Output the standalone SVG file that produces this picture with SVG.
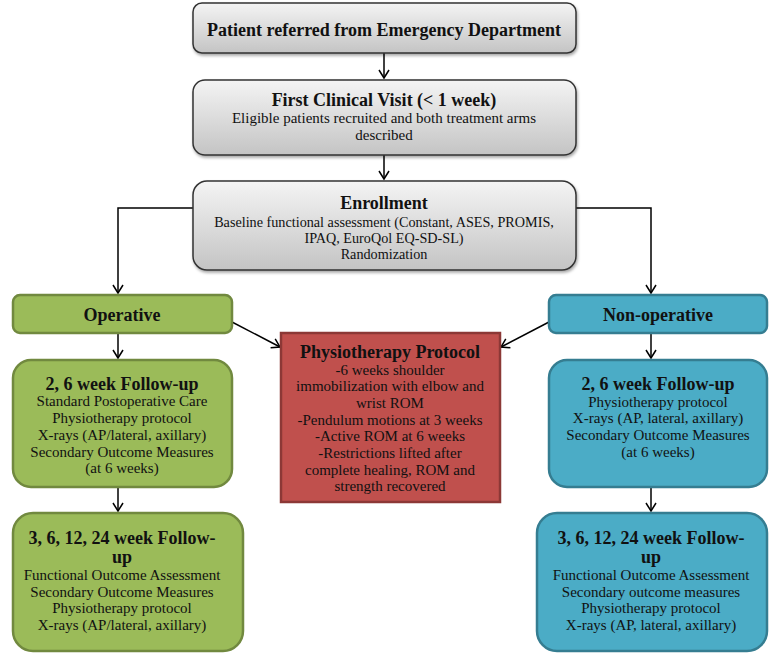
<svg xmlns="http://www.w3.org/2000/svg" width="781" height="655" viewBox="0 0 781 655">
<defs>
<linearGradient id="gray" x1="0" y1="0" x2="0" y2="1">
<stop offset="0" stop-color="#f4f4f4"/>
<stop offset="1" stop-color="#c4c4c4"/>
</linearGradient>
<filter id="sh" x="-10%" y="-10%" width="120%" height="130%">
<feDropShadow dx="1" dy="2" stdDeviation="1.5" flood-color="#000" flood-opacity="0.35"/>
</filter>
<marker id="ah" markerWidth="12" markerHeight="12" refX="10" refY="6" orient="auto" markerUnits="userSpaceOnUse">
<path d="M2,1 L10,6 L2,11" fill="none" stroke="#000" stroke-width="1.5"/>
</marker>
</defs>
<style>
text{font-family:"Liberation Serif","DejaVu Serif",serif;fill:#111;text-anchor:middle}
.t{font-weight:bold;font-size:18px}
.b{font-size:15px}
.e{font-size:14.2px}
.gray{fill:url(#gray);stroke:#333;stroke-width:1.5;filter:url(#sh)}
.green{fill:#9bbb59;stroke:#71893f;stroke-width:2.5}
.blue{fill:#4bacc6;stroke:#357d91;stroke-width:2.5}
.red{fill:#c0504d;stroke:#8c3836;stroke-width:2.5}
.c{fill:none;stroke:#000;stroke-width:1.5;marker-end:url(#ah)}
</style>
<g id="connectors">
<path class="c" d="M384,53 V78"/>
<path class="c" d="M384,155 V179"/>
<path class="c" d="M193,208 H118 V293"/>
<path class="c" d="M576,208 H651 V293"/>
<path class="c" d="M118,334 V358"/>
<path class="c" d="M651,334 V358"/>
<path class="c" d="M118,488 V511"/>
<path class="c" d="M651,488 V511"/>
<path class="c" d="M232,322 L280,347"/>
<path class="c" d="M549,322 L501,347"/>
</g>
<g id="referred">
<rect class="gray" x="193" y="3" width="383" height="50" rx="9"/>
<text class="t" x="384" y="36">Patient referred from Emergency Department</text>
</g>
<g id="first-visit">
<rect class="gray" x="193" y="80" width="383" height="75" rx="12"/>
<text class="t" x="384" y="106">First Clinical Visit (&lt; 1 week)</text>
<text class="b" x="384" y="123">Eligible patients recruited and both treatment arms</text>
<text class="b" x="384" y="140">described</text>
</g>
<g id="enrollment">
<rect class="gray" x="193" y="181" width="383" height="89" rx="14"/>
<text class="t" x="384" y="209">Enrollment</text>
<text class="e" x="384" y="227">Baseline functional assessment (Constant, ASES, PROMIS,</text>
<text class="e" x="384" y="243">IPAQ, EuroQol EQ-SD-SL)</text>
<text class="e" x="384" y="259">Randomization</text>
</g>
<g id="operative">
<rect class="green" x="13" y="295" width="219" height="38" rx="7"/>
<text class="t" x="122" y="321">Operative</text>
</g>
<g id="non-operative">
<rect class="blue" x="549" y="295" width="218" height="38" rx="7"/>
<text class="t" x="658" y="321">Non-operative</text>
</g>
<g id="physio">
<rect class="red" x="281" y="333" width="219" height="169"/>
<text class="t" x="390" y="358">Physiotherapy Protocol</text>
<text class="b" x="390" y="375">-6 weeks shoulder</text>
<text class="b" x="390" y="391">immobilization with elbow and</text>
<text class="b" x="390" y="408">wrist ROM</text>
<text class="b" x="390" y="425">-Pendulum motions at 3 weeks</text>
<text class="b" x="390" y="441">-Active ROM at 6 weeks</text>
<text class="b" x="390" y="458">-Restrictions lifted after</text>
<text class="b" x="390" y="475">complete healing, ROM and</text>
<text class="b" x="390" y="491">strength recovered</text>
</g>
<g id="op-fu1">
<rect class="green" x="13" y="360" width="219" height="127" rx="18"/>
<text class="t" x="122" y="390">2, 6 week Follow-up</text>
<text class="b" x="122" y="406">Standard Postoperative Care</text>
<text class="b" x="122" y="423">Physiotherapy protocol</text>
<text class="b" x="122" y="440">X-rays (AP/lateral, axillary)</text>
<text class="b" x="122" y="457">Secondary Outcome Measures</text>
<text class="b" x="122" y="473">(at 6 weeks)</text>
</g>
<g id="nonop-fu1">
<rect class="blue" x="549" y="360" width="218" height="127" rx="18"/>
<text class="t" x="658" y="390">2, 6 week Follow-up</text>
<text class="b" x="658" y="407">Physiotherapy protocol</text>
<text class="b" x="658" y="423">X-rays (AP, lateral, axillary)</text>
<text class="b" x="658" y="440">Secondary Outcome Measures</text>
<text class="b" x="658" y="457">(at 6 weeks)</text>
</g>
<g id="op-fu2">
<rect class="green" x="13" y="513" width="230" height="138" rx="20"/>
<text class="t" x="122" y="544">3, 6, 12, 24 week Follow-</text>
<text class="t" x="122" y="563">up</text>
<text class="b" x="122" y="580">Functional Outcome Assessment</text>
<text class="b" x="122" y="597">Secondary Outcome Measures</text>
<text class="b" x="122" y="613">Physiotherapy protocol</text>
<text class="b" x="122" y="630">X-rays (AP/lateral, axillary)</text>
</g>
<g id="nonop-fu2">
<rect class="blue" x="537" y="513" width="230" height="138" rx="20"/>
<text class="t" x="651" y="544">3, 6, 12, 24 week Follow-</text>
<text class="t" x="651" y="563">up</text>
<text class="b" x="651" y="580">Functional Outcome Assessment</text>
<text class="b" x="651" y="597">Secondary outcome measures</text>
<text class="b" x="651" y="613">Physiotherapy protocol</text>
<text class="b" x="651" y="630">X-rays (AP, lateral, axillary)</text>
</g>
</svg>
